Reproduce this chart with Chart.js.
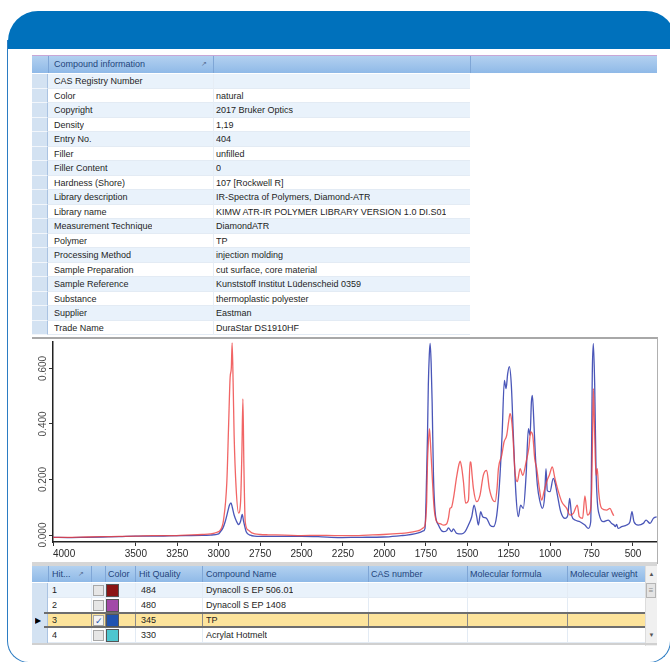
<!DOCTYPE html>
<html><head><meta charset="utf-8">
<script src="https://cdn.jsdelivr.net/npm/chart.js@4.4.1/dist/chart.umd.min.js"></script>
<style>
html,body{margin:0;padding:0;background:#fff;width:670px;height:662px;overflow:hidden;font-family:"Liberation Sans",Arial,sans-serif;}
#frame{position:absolute;left:7px;top:40px;width:664px;height:623px;border:1.5px solid #2b7cc3;border-top:none;border-radius:0 0 22px 22px;box-sizing:border-box;}
#band{position:absolute;left:8px;top:11px;width:668px;height:38px;background:#0071bc;border-radius:30px 30px 0 0;}
.c{position:absolute;white-space:nowrap;overflow:hidden;font-size:9px;color:#1e1e1e;box-sizing:border-box;}
.hd{color:#24457c;}
#chartBox{position:absolute;left:32px;top:337px;width:626px;height:227px;border-top:2px solid #a8a8a8;border-right:1px solid #b0b0b0;box-sizing:border-box;background:#fff;}
#chartWrap{position:absolute;left:32px;top:340px;width:625px;height:222px;}
</style></head>
<body>
<div id="frame"></div>
<div id="band"></div>
<div id="topTable"></div>
<div id="chartBox"></div>
<div id="chartWrap"><canvas id="c"></canvas></div>
<div id="splitter" style="position:absolute;left:32px;top:562px;width:625px;height:4px;background:#d6d6d6;"></div>
<div id="bottomTable"></div>
<script>
// ---------- DATA ----------
const infoLabels = ["CAS Registry Number","Color","Copyright","Density","Entry No.","Filler","Filler Content","Hardness (Shore)","Library description","Library name","Measurement Technique","Polymer","Processing Method","Sample Preparation","Sample Reference","Substance","Supplier","Trade Name"];
const infoValues = ["","natural","2017 Bruker Optics","1,19","404","unfilled","0","107 [Rockwell R]","IR-Spectra of Polymers, Diamond-ATR","KIMW ATR-IR POLYMER LIBRARY VERSION 1.0 DI.S01","DiamondATR","TP","injection molding","cut surface, core material","Kunststoff Institut Lüdenscheid 0359","thermoplastic polyester","Eastman","DuraStar DS1910HF"];

const hitHeaders = ["Hit...","","Color","Hit Quality","Compound Name","CAS number","Molecular formula","Molecular weight"];
const hitNumbers = [1,2,3,4];
const hitChecked = [false,false,true,false];
const hitColors = ["#8b1515","#a24aa8","#2153b0","#4ec6cf"];
const hitQualities = [484,480,345,330];
const hitNames = ["Dynacoll S EP 506.01","Dynacoll S EP 1408","TP","Acrylat Hotmelt"];

const xTickValues = [500,750,1000,1250,1500,1750,2000,2250,2500,2750,3000,3250,3500,4000];
const yTickValues = [0,0.2,0.4,0.6];

const redWavenumbers = [4000,3900,3800,3700,3600,3500,3400,3300,3200,3100,3050,3010,2990,2971,2951,2940,2931,2924,2919,2913,2907,2895,2880,2868,2860,2854,2848,2840,2822,2800,2750,2700,2600,2500,2400,2300,2200,2100,2006,1900,1865,1800,1785,1765,1755,1745,1740,1735,1728,1722,1714,1700,1684,1660,1644,1625,1614,1604,1595,1584,1564,1550,1543,1533,1523,1510,1493,1483,1479,1470,1463,1443,1423,1403,1383,1367,1346,1332,1320,1312,1292,1278,1262,1250,1242,1234,1226,1212,1198,1181,1165,1145,1129,1117,1105,1093,1081,1065,1051,1037,1021,1005,987,971,950,930,900,880,860,836,824,804,790,775,759,749,744,739,735,731,723,715,707,689,659,639,625,618,614];
const redAbsorbance = [-0.008,-0.008,-0.007,-0.006,-0.005,-0.004,-0.002,-0.002,0.000,0.002,0.004,0.010,0.018,0.054,0.19,0.40,0.568,0.60,0.692,0.55,0.36,0.17,0.079,0.12,0.30,0.49,0.25,0.048,0.018,0.008,0.002,0.001,0.000,-0.002,-0.001,-0.002,-0.002,0.000,0.002,0.006,0.008,0.015,0.018,0.026,0.036,0.12,0.263,0.33,0.383,0.33,0.239,0.096,0.048,0.040,0.036,0.040,0.060,0.096,0.100,0.130,0.210,0.255,0.266,0.240,0.192,0.115,0.125,0.263,0.262,0.210,0.168,0.120,0.144,0.216,0.233,0.168,0.126,0.120,0.170,0.239,0.287,0.335,0.359,0.410,0.437,0.420,0.371,0.227,0.192,0.239,0.215,0.263,0.311,0.371,0.359,0.275,0.240,0.168,0.126,0.156,0.192,0.215,0.245,0.204,0.156,0.120,0.096,0.072,0.078,0.108,0.066,0.060,0.141,0.072,0.084,0.168,0.350,0.527,0.450,0.359,0.215,0.239,0.156,0.096,0.090,0.096,0.080,0.072,0.070];

const blueWavenumbers = [4000,3900,3800,3700,3600,3500,3400,3300,3200,3100,3050,3000,2991,2975,2961,2945,2935,2926,2918,2907,2893,2880,2868,2858,2850,2834,2810,2750,2600,2500,2400,2267,2150,2006,1900,1865,1785,1765,1755,1749,1740,1735,1729,1724,1718,1712,1704,1694,1674,1644,1624,1614,1594,1584,1564,1533,1513,1493,1473,1459,1443,1433,1419,1407,1383,1363,1342,1322,1306,1290,1276,1266,1256,1246,1234,1222,1206,1192,1178,1162,1145,1131,1121,1113,1107,1099,1089,1077,1061,1047,1033,1025,1017,1001,981,971,956,936,910,894,882,870,850,820,790,769,755,745,739,731,723,715,703,679,649,629,614,607,599,590,568,538,518,506,494,468,438,421,397,377,357];
const blueAbsorbance = [-0.008,-0.009,-0.008,-0.007,-0.006,-0.004,-0.004,-0.003,-0.002,-0.001,0.000,0.004,0.011,0.025,0.048,0.085,0.108,0.116,0.100,0.072,0.050,0.038,0.050,0.074,0.050,0.012,0.000,-0.005,-0.005,-0.005,-0.006,-0.009,-0.008,-0.007,-0.002,0.000,0.010,0.015,0.024,0.120,0.359,0.539,0.650,0.690,0.620,0.479,0.215,0.084,0.036,0.012,0.016,0.026,0.012,0.022,0.006,0.004,0.012,0.036,0.066,0.108,0.066,0.036,0.084,0.066,0.060,0.036,0.030,0.072,0.180,0.359,0.557,0.527,0.581,0.606,0.539,0.359,0.144,0.066,0.108,0.096,0.215,0.383,0.359,0.479,0.503,0.419,0.287,0.180,0.120,0.096,0.140,0.239,0.160,0.156,0.204,0.190,0.144,0.084,0.060,0.070,0.132,0.070,0.054,0.048,0.036,0.024,0.048,0.598,0.690,0.539,0.239,0.120,0.072,0.048,0.054,0.042,0.036,0.030,0.038,0.024,0.030,0.036,0.048,0.084,0.048,0.036,0.042,0.054,0.042,0.060,0.066];

// ---------- TOP TABLE ----------
(function(){
  const root = document.getElementById('topTable');
  let h = '';
  const L=32, R=657, c1=48, c2=213, c3=470, top=55, hh=18, rh=14.5;
  h += `<div class="c" style="left:${L}px;top:${top}px;width:${R-L}px;height:${hh}px;background:linear-gradient(#b3d1f0,#8fb9e7);border-top:1px solid #c9a6d6;"></div>`;
  [c1,c2,c3].forEach(x=>{ h += `<div class="c" style="left:${x}px;top:${top+1}px;width:1px;height:${hh-1}px;background:#7fa6d6;"></div>`; });
  h += `<div class="c hd" style="left:${c1+6}px;top:${top}px;height:${hh}px;line-height:${hh+1}px;">Compound information</div>`;
  h += `<div class="c" style="left:${c2-12}px;top:${top}px;height:${hh}px;line-height:${hh}px;font-size:7px;color:#5a6f94;">&#x2197;</div>`;
  for (let i=0;i<infoLabels.length;i++){
    const y = top+hh+1+i*rh;
    const bg = i%2===0 ? '#e9f2fb' : '#ffffff';
    h += `<div class="c" style="left:${L}px;top:${y}px;width:${c1-L}px;height:${rh}px;background:#d3e2f2;border-right:1px solid #aac3e2;border-bottom:1px solid #f2f6fb;"></div>`;
    h += `<div class="c" style="left:${c1}px;top:${y}px;width:${c3-c1}px;height:${rh}px;background:${bg};border-bottom:1px solid #e3ebf4;"></div>`;
    h += `<div class="c" style="left:${c2}px;top:${y}px;width:1px;height:${rh}px;background:#e6edf5;"></div>`;
    h += `<div class="c" style="left:${c1+6}px;top:${y}px;height:${rh}px;line-height:${rh}px;">${infoLabels[i]}</div>`;
    h += `<div class="c" style="left:${c2+3}px;top:${y}px;height:${rh}px;line-height:${rh}px;">${infoValues[i]}</div>`;
  }
  root.innerHTML = h;
})();

// ---------- BOTTOM TABLE ----------
(function(){
  const root = document.getElementById('bottomTable');
  let h='';
  const L=32, R=645, top=566, hh=16, rh=15;
  const cols=[48,91,105,135,202,368,467,567,645];
  h += `<div class="c" style="left:${L}px;top:${top}px;width:${R-L}px;height:${hh}px;background:linear-gradient(#b3d1f0,#8fb9e7);"></div>`;
  cols.forEach(x=>{ h += `<div class="c" style="left:${x}px;top:${top}px;width:1px;height:${hh}px;background:#7fa6d6;"></div>`; });
  const hx=[52,null,108,139,206,371,470,570];
  hitHeaders.forEach((t,i)=>{ if(t) h += `<div class="c hd" style="left:${hx[i]}px;top:${top}px;height:${hh}px;line-height:${hh+1}px;">${t}</div>`; });
  h += `<div class="c" style="left:78px;top:${top}px;height:${hh}px;line-height:${hh}px;font-size:7px;color:#5a6f94;">&#x2197;</div>`;
  for(let i=0;i<hitNumbers.length;i++){
    const y = top+hh+1+i*rh;
    const sel = i===2;
    const bg = sel ? '#fde49c' : (i%2===0 ? '#e9f2fb' : '#ffffff');
    h += `<div class="c" style="left:${L}px;top:${y}px;width:16px;height:${rh}px;background:#d3e2f2;border-right:1px solid #aac3e2;"></div>`;
    h += `<div class="c" style="left:48px;top:${y}px;width:${R-48}px;height:${rh}px;background:${bg};border-bottom:1px solid #e3ebf4;"></div>`;
    cols.slice(1,8).forEach(x=>{ h += `<div class="c" style="left:${x}px;top:${y}px;width:1px;height:${rh}px;background:${sel?'#8a8a8a':'#e3ebf4'};"></div>`; });
    if(sel){
      h += `<div class="c" style="left:44px;top:${y-1}px;width:${R-44}px;height:${rh+1}px;border-top:2px solid #6e6e6e;border-bottom:2px solid #6e6e6e;"></div>`;
      h += `<div class="c" style="left:35px;top:${y}px;height:${rh}px;line-height:${rh}px;font-size:8px;color:#000;">&#x25B6;</div>`;
    }
    h += `<div class="c" style="left:52px;top:${y}px;height:${rh}px;line-height:${rh}px;">${hitNumbers[i]}</div>`;
    h += `<div class="c" style="left:93px;top:${y+2}px;width:11px;height:11px;border:1px solid #a8a8a8;background:${sel?'#f4f4f4':'#e6e6e6'};font-size:9px;line-height:10px;color:#2153b0;text-align:center;">${hitChecked[i]?'&#x2713;':''}</div>`;
    h += `<div class="c" style="left:106px;top:${y+1}px;width:13px;height:13px;background:${hitColors[i]};border:1px solid #555;"></div>`;
    h += `<div class="c" style="left:141px;top:${y}px;height:${rh}px;line-height:${rh}px;">${hitQualities[i]}</div>`;
    h += `<div class="c" style="left:206px;top:${y}px;height:${rh}px;line-height:${rh}px;">${hitNames[i]}</div>`;
  }
  // scrollbar
  h += `<div class="c" style="left:645px;top:${top}px;width:12px;height:80px;background:#f0f0f0;border-left:1px solid #dcdcdc;"></div>`;
  h += `<div class="c" style="left:646px;top:${top+3}px;width:11px;height:10px;font-size:6px;line-height:10px;text-align:center;color:#555;">&#x25B2;</div>`;
  h += `<div class="c" style="left:646px;top:${top+17}px;width:10px;height:15px;background:#e4e4e4;border:1px solid #b5b5b5;font-size:8px;line-height:13px;text-align:center;color:#888;">&#x2261;</div>`;
  h += `<div class="c" style="left:646px;top:${top+64}px;width:11px;height:10px;font-size:6px;line-height:10px;text-align:center;color:#555;">&#x25BC;</div>`;
  h += `<div class="c" style="left:${L}px;top:${top+hh+1+4*rh}px;width:${657-L}px;height:2px;background:#d0d0d0;"></div>`;
  root.innerHTML = h;
})();

// ---------- CHART ----------
const xMin = 355, xMax = 4000;
const redPoints = redWavenumbers.map((w,i)=>({x:w,y:redAbsorbance[i]}));
const bluePoints = blueWavenumbers.map((w,i)=>({x:w,y:blueAbsorbance[i]}));

const yLabelPlugin = {
  id:'yLabels',
  afterDraw(chart){
    const s = chart.scales.y, ctx = chart.ctx;
    ctx.save();
    ctx.fillStyle = '#4a4a4a';
    ctx.font = '10px "Liberation Sans", Arial, sans-serif';
    ctx.textAlign = 'center'; ctx.textBaseline = 'middle';
    s.ticks.forEach(t=>{
      const py = s.getPixelForValue(t.value);
      ctx.save(); ctx.translate(s.right - 10, py); ctx.rotate(-Math.PI/2);
      ctx.fillText(Number(t.value).toFixed(3), 0, 0);
      ctx.restore();
    });
    ctx.restore();
  }
};

new Chart(document.getElementById('c'), {
  type:'line',
  data:{ datasets:[
    {label:'Query', data:redPoints, borderColor:'rgba(238,62,62,0.8)', borderWidth:1.3, pointRadius:0, cubicInterpolationMode:'monotone', fill:false},
    {label:'TP', data:bluePoints, borderColor:'rgba(42,56,172,0.85)', borderWidth:1.3, pointRadius:0, cubicInterpolationMode:'monotone', fill:false}
  ]},
  options:{
    responsive:true, maintainAspectRatio:false, animation:false,
    layout:{padding:{top:2,right:0,left:0,bottom:0}},
    plugins:{legend:{display:false}, tooltip:{enabled:false}},
    scales:{
      x:{ type:'linear', reverse:true, min:xMin, max:xMax,
        afterBuildTicks:(s)=>{ s.ticks = [xMin, ...xTickValues].map(v=>({value:v})); },
        afterFit:(s)=>{ s.height = 20; },
        grid:{ drawOnChartArea:false, drawTicks:true, tickLength:4, tickWidth:1,
               tickColor:(ctx)=> (ctx.tick && ctx.tick.value===xMin) ? 'rgba(0,0,0,0)' : '#333' },
        border:{ display:true, color:'#222', width:1.5 },
        ticks:{ autoSkip:false, maxRotation:0, minRotation:0, align:'inner', padding:2, color:'#2a2a2a',
                font:{family:'"Liberation Sans", Arial, sans-serif', size:10},
                callback:(v)=> v===xMin ? '' : String(v) }
      },
      y:{ type:'linear', min:-0.025, max:0.695,
        afterBuildTicks:(s)=>{ s.ticks = yTickValues.map(v=>({value:v})); },
        afterFit:(s)=>{ s.width = 21; },
        grid:{ drawOnChartArea:false, drawTicks:true, tickLength:4, tickColor:'#333' },
        border:{ display:true, color:'#222', width:1.5 },
        ticks:{ display:false }
      }
    }
  },
  plugins:[yLabelPlugin]
});
</script>
</body></html>
